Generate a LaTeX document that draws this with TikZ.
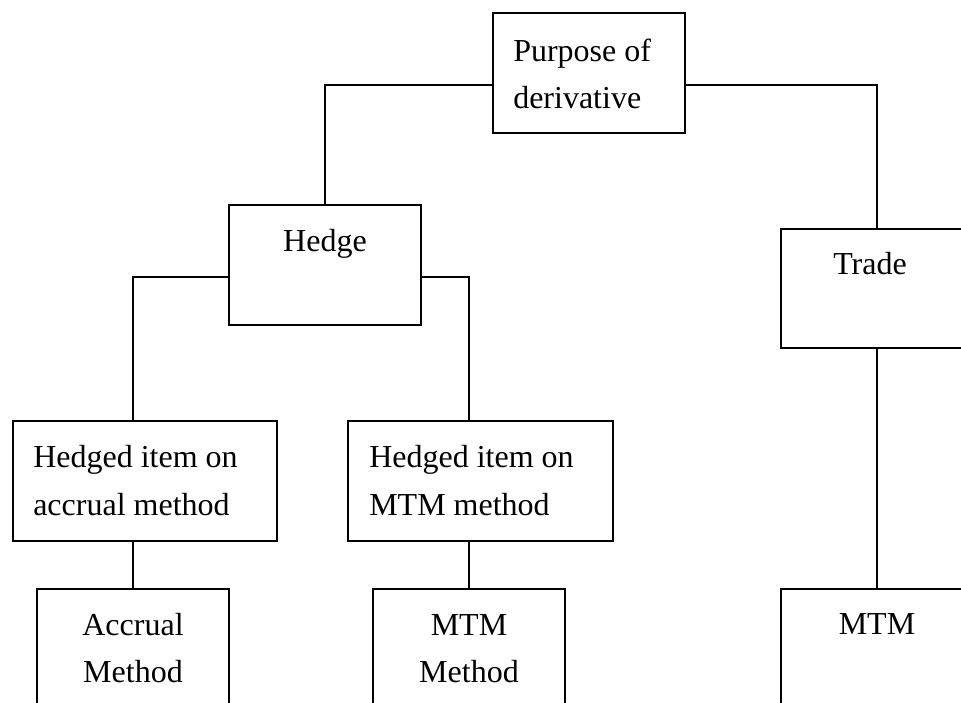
\documentclass[tikz,border=0pt]{standalone}
\usepackage{fontspec}
\setmainfont{Liberation Serif}
\usetikzlibrary{fit}
\begin{document}
\begin{tikzpicture}[x=0.75pt,y=-0.75pt,
  box/.style={draw=black,line width=1.6pt,inner sep=0pt,rectangle},
  conn/.style={draw=black,line width=1.6pt},
  txt/.style={font=\fontsize{24}{36}\selectfont,inner sep=0pt,text=black},
  ltxt/.style={txt,anchor=base west},
  ctxt/.style={txt,anchor=base}]
\useasboundingbox (0,0) rectangle (961,703);
\clip (0,0) rectangle (961,703);
% boxes
\node[box,fit={(493,13) (685,133)}] (purpose) {};
\node[box,fit={(229,205) (421,325)}] (hedge) {};
\node[box,fit={(781,229) (973,348)}] (trade) {};
\node[box,fit={(13,421) (277,541)}] (hacc) {};
\node[box,fit={(348,421) (613,541)}] (hmtm) {};
\node[box,fit={(37,589) (229,760)}] (accm) {};
\node[box,fit={(373,589) (565,760)}] (mtmm) {};
\node[box,fit={(781,589) (973,760)}] (mtm) {};
% texts
\node[ltxt] (purpose1) at (513,61) {Purpose of};
\node[ltxt] (purpose2) at (513,108) {derivative};
\node[ctxt] (hedgeT) at (325,251) {Hedge};
\node[ctxt] (tradeT) at (870,274) {Trade};
\node[ltxt] (hacc1) at (33,467) {Hedged item on};
\node[ltxt] (hacc2) at (33,515) {accrual method};
\node[ltxt] (hmtm1) at (369,467) {Hedged item on};
\node[ltxt] (hmtm2) at (369,515) {MTM method};
\node[ctxt] (accm1) at (133,635) {Accrual};
\node[ctxt] (accm2) at (133,682) {Method};
\node[ctxt] (mtmm1) at (469,635) {MTM};
\node[ctxt] (mtmm2) at (469,682) {Method};
\node[ctxt] (mtmT) at (877,634) {MTM};
% connectors
\coordinate (yP) at (0,85);
\coordinate (yH) at (0,277);
\draw[conn] (purpose.west |- yP) -| (hedge.north);
\draw[conn] (purpose.east |- yP) -| (trade.north);
\draw[conn] (hedge.west |- yH) -| (accm.north |- hacc.north);
\draw[conn] (hedge.east |- yH) -| (mtmm.north |- hmtm.north);
\draw[conn] (accm.north |- hacc.south) -- (accm.north);
\draw[conn] (mtmm.north |- hmtm.south) -- (mtmm.north);
\draw[conn] (trade.south) -- (mtm.north);
\end{tikzpicture}
\end{document}
